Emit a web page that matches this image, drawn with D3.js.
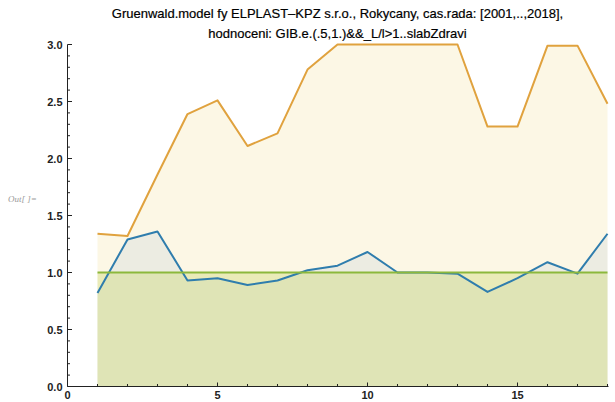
<!DOCTYPE html>
<html>
<head>
<meta charset="utf-8">
<script src="https://cdn.jsdelivr.net/npm/d3@7"></script>
<style>
  html, body { margin: 0; padding: 0; background: #ffffff; }
  svg { display: block; }
</style>
</head>
<body>
<svg id="chart" width="615" height="402"></svg>
<script>
// Time-series index (years 2001..2018 as 1..18)
const periods = [1, 2, 3, 4, 5, 6, 7, 8, 9, 10, 11, 12, 13, 14, 15, 16, 17, 18];
// Gruenwald model series
const modelValues = [0.82, 1.29, 1.36, 0.93, 0.95, 0.89, 0.93, 1.02, 1.06, 1.18, 1.0, 1.0, 0.99, 0.83, 0.95, 1.09, 0.99, 1.34];
// Upper bound series (clipped at the plot range top)
const upperValues = [1.34, 1.32, 1.86, 2.39, 2.51, 2.11, 2.22, 2.78, 3.0, 3.0, 3.0, 3.0, 3.0, 2.28, 2.28, 2.99, 2.99, 2.48];
// Threshold level
const levelValues = [1, 1, 1, 1, 1, 1, 1, 1, 1, 1, 1, 1, 1, 1, 1, 1, 1, 1];

const xTicksMajor = [0, 5, 10, 15];
const xTicksMinor = [1, 2, 3, 4, 6, 7, 8, 9, 11, 12, 13, 14, 16, 17, 18];
const yTicksMajor = [0, 0.5, 1.0, 1.5, 2.0, 2.5, 3.0];

const titleLines = [
  "Gruenwald.model fy ELPLAST\u2013KPZ s.r.o., Rokycany, cas.rada: [2001,..,2018],",
  "hodnoceni: GIB.e.(.5,1.)&&_L/l>1..slabZdravi"
];

const svg = d3.select("#chart");
const x = d3.scaleLinear().domain([0, 18]).range([67.5, 607.5]);
const y = d3.scaleLinear().domain([0, 3]).range([386.5, 44.5]);

const series = [
  { values: upperValues, stroke: "#e0a23e", fill: "#f8e9b8", fillOpacity: 0.36 },
  { values: modelValues, stroke: "#2f7dad", fill: "#a9bfd6", fillOpacity: 0.18 },
  { values: levelValues, stroke: "#8cb83c", fill: "#c0cf50", fillOpacity: 0.3 }
];

const area = vals => d3.area()
  .x((d, i) => x(periods[i]))
  .y0(y(0))
  .y1(d => y(d))(vals);
const line = vals => d3.line()
  .x((d, i) => x(periods[i]))
  .y(d => y(d))(vals);

// Fillings to the axis, drawn beneath all lines
series.forEach(s => {
  svg.append("path")
    .attr("d", area(s.values))
    .attr("fill", s.fill)
    .attr("fill-opacity", s.fillOpacity);
});
series.forEach(s => {
  svg.append("path")
    .attr("d", line(s.values))
    .attr("fill", "none")
    .attr("stroke", s.stroke)
    .attr("stroke-width", 2)
    .attr("stroke-linejoin", "round");
});

// Axes (ticks point inward)
const axisColor = "#222";
const xAxis = svg.append("g");
xAxis.append("line")
  .attr("x1", x(0)).attr("x2", x(18) + 1)
  .attr("y1", y(0)).attr("y2", y(0))
  .attr("stroke", axisColor).attr("stroke-width", 1);
xTicksMajor.forEach(t => {
  xAxis.append("line").attr("x1", x(t)).attr("x2", x(t))
    .attr("y1", y(0)).attr("y2", y(0) - 4).attr("stroke", axisColor);
  xAxis.append("text").attr("x", x(t)).attr("y", y(0) + 12)
    .attr("text-anchor", "middle")
    .attr("font-family", "Liberation Sans, Arial, sans-serif")
    .attr("font-size", 11).attr("font-weight", "bold").attr("fill", "#222")
    .text(d3.format("d")(t));
});
xTicksMinor.forEach(t => {
  xAxis.append("line").attr("x1", x(t)).attr("x2", x(t))
    .attr("y1", y(0)).attr("y2", y(0) - 2.5).attr("stroke", axisColor);
});

const yAxis = svg.append("g");
yAxis.append("line")
  .attr("x1", x(0)).attr("x2", x(0))
  .attr("y1", y(0)).attr("y2", y(3))
  .attr("stroke", axisColor).attr("stroke-width", 1);
d3.range(0, 31).forEach(k => {
  const v = k / 10;
  const major = k % 5 === 0;
  yAxis.append("line").attr("x1", x(0)).attr("x2", x(0) + (major ? 4.5 : 2.5))
    .attr("y1", y(v)).attr("y2", y(v)).attr("stroke", axisColor);
});
yTicksMajor.forEach(v => {
  yAxis.append("text").attr("x", x(0) - 5).attr("y", y(v) + 4)
    .attr("text-anchor", "end")
    .attr("font-family", "Liberation Sans, Arial, sans-serif")
    .attr("font-size", 11).attr("font-weight", "bold").attr("fill", "#222")
    .text(d3.format(".1f")(v));
});

// Title
titleLines.forEach((t, i) => {
  svg.append("text")
    .attr("x", (x(0) + x(18)) / 2)
    .attr("y", 18 + i * 20)
    .attr("text-anchor", "middle")
    .attr("font-family", "Liberation Sans, Arial, sans-serif")
    .attr("font-size", 13)
    .attr("fill", "#000")
    .attr("stroke", "#000")
    .attr("stroke-width", 0.2)
    .text(t);
});

// Cell output label
svg.append("text")
  .attr("x", 8).attr("y", 202)
  .attr("font-family", "Liberation Serif, serif")
  .attr("font-style", "italic")
  .attr("font-size", 9)
  .attr("fill", "#9a9a9a")
  .text("Out[ ]=");
</script>
</body>
</html>
